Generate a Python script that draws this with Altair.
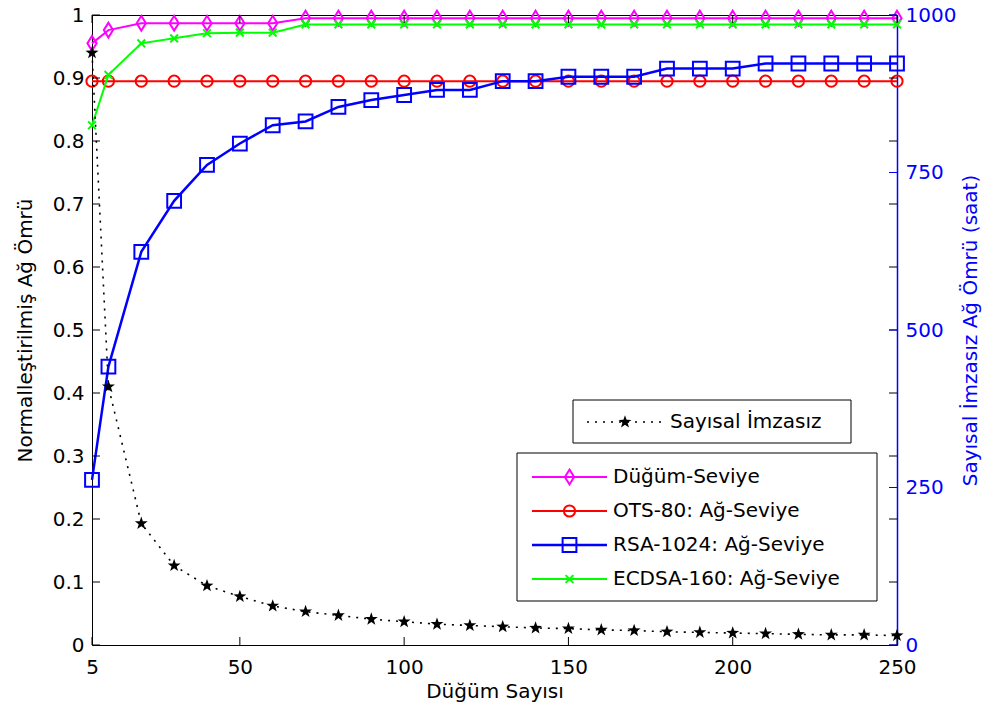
import math
import altair as alt
import pandas as pd

# ---- data -------------------------------------------------------------
node_counts = [5, 10, 20, 30, 40, 50, 60, 70, 80, 90, 100, 110, 120, 130,
               140, 150, 160, 170, 180, 190, 200, 210, 220, 230, 240, 250]

dugum_seviye = [0.955, 0.976, 0.987, 0.987, 0.987, 0.987, 0.987, 0.995, 0.995,
                0.995, 0.995, 0.995, 0.995, 0.995, 0.995, 0.995, 0.995, 0.995,
                0.995, 0.995, 0.995, 0.995, 0.995, 0.995, 0.995, 0.995]
ots80 = [0.895, 0.895, 0.895, 0.895, 0.895, 0.895, 0.895, 0.895, 0.895,
         0.895, 0.895, 0.895, 0.895, 0.895, 0.895, 0.895, 0.895, 0.895,
         0.895, 0.895, 0.895, 0.895, 0.895, 0.895, 0.895, 0.895]
rsa1024 = [0.262, 0.442, 0.624, 0.705, 0.762, 0.796, 0.825, 0.831, 0.854,
           0.865, 0.873, 0.881, 0.881, 0.895, 0.895, 0.902, 0.902, 0.902,
           0.915, 0.915, 0.915, 0.923, 0.923, 0.923, 0.923, 0.923]
ecdsa160 = [0.825, 0.905, 0.955, 0.963, 0.971, 0.972, 0.972, 0.985, 0.985,
            0.985, 0.985, 0.985, 0.985, 0.985, 0.985, 0.985, 0.985, 0.985,
            0.985, 0.985, 0.985, 0.985, 0.985, 0.985, 0.985, 0.985]
# lifetime without signatures, in hours (right axis)
imzasiz_saat = [940, 410, 193, 126, 94, 77, 62, 53, 47, 41, 37, 33, 31, 29,
                27, 26, 24, 23, 21, 20, 19, 18, 17, 16, 16, 15]

series_names = ["Düğüm-Seviye", "OTS-80: Ağ-Seviye",
                "RSA-1024: Ağ-Seviye", "ECDSA-160: Ağ-Seviye"]
series_values = [dugum_seviye, ots80, rsa1024, ecdsa160]
series_colors = ["#FF00FF", "#FF0000", "#0000FF", "#00FF00"]
unsigned_name = "Sayısal İmzasız"

x_ticks = [5, 50, 100, 150, 200, 250]
left_ticks = [0, 0.1, 0.2, 0.3, 0.4, 0.5, 0.6, 0.7, 0.8, 0.9, 1]
right_ticks = [0, 250, 500, 750, 1000]

# ---- styling ----------------------------------------------------------
W, H = 805, 630
FONT = "DejaVu Sans"
FS = 20
TICK = 8
BLUE = "#0000FF"


def star_path(inner=0.4):
    pts = []
    for k in range(10):
        r = 1.0 if k % 2 == 0 else inner
        a = -math.pi / 2 + k * math.pi / 5
        pts.append(f"{r * math.cos(a):.3f},{r * math.sin(a):.3f}")
    return "M" + "L".join(pts) + "Z"


STAR = star_path()
STAR_SIZE = 185
DIAMOND = "M0,-1L0.62,0L0,1L-0.62,0Z"
XMARK = "M-1,-1L1,1M-1,1L1,-1"
markers = [
    dict(shape=DIAMOND, size=220, filled=False),
    dict(shape="circle", size=125, filled=False),
    dict(shape="square", size=190, filled=False),
    dict(shape=XMARK, size=60, filled=False),
]
line_widths = [2, 2, 2.5, 2]

x_scale = alt.Scale(domain=[5, 250], nice=False, zero=False)
yl_scale = alt.Scale(domain=[0, 1], nice=False, zero=False)
yr_scale = alt.Scale(domain=[0, 1000], nice=False, zero=False)

x_axis = alt.Axis(values=x_ticks, title="Düğüm Sayısı", ticks=False,
                  domain=False, grid=False, labelFlush=False, labelPadding=12,
                  titleX=W / 2, titleY=46, titleBaseline="middle",
                  titleAlign="center")
yl_axis = alt.Axis(values=left_ticks, format="~g",
                   title="Normalleştirilmiş Ağ Ömrü", ticks=False,
                   domain=False, grid=False, labelFlush=False, labelPadding=8,
                   titleX=-67, titleY=H / 2, titleAngle=270,
                   titleBaseline="middle", titleAlign="center")
yr_axis = alt.Axis(values=right_ticks, format="d", orient="right",
                   title="Sayısal İmzasız Ağ Ömrü (saat)", ticks=False,
                   domain=True, domainColor=BLUE, domainWidth=1.5,
                   grid=False, labelFlush=False, labelPadding=8,
                   labelColor=BLUE, titleColor=BLUE,
                   titleX=73, titleY=H / 2, titleAngle=270,
                   titleBaseline="middle", titleAlign="center")


def X(field):
    return alt.X(f"{field}:Q", scale=x_scale, axis=x_axis)


def YL(field):
    return alt.Y(f"{field}:Q", scale=yl_scale, axis=yl_axis)


def YR(field):
    return alt.Y(f"{field}:Q", scale=yr_scale, axis=yr_axis)


# ---- left axis group: normalised lifetimes ----------------------------
left_layers = []
for name, vals, col, mk, lw in zip(series_names, series_values,
                                   series_colors, markers, line_widths):
    df = pd.DataFrame({"n": node_counts, "v": vals, "seri": name})
    left_layers.append(
        alt.Chart(df).mark_line(color=col, strokeWidth=lw)
        .encode(x=X("n"), y=YL("v"))
    )
    left_layers.append(
        alt.Chart(df).mark_point(color=col, strokeWidth=2, opacity=1, **mk)
        .encode(x=X("n"), y=YL("v"))
    )

# inward tick marks on all four sides of the box
xt = pd.DataFrame({"t": x_ticks})
ylt = pd.DataFrame({"t": left_ticks})
left_layers += [
    alt.Chart(xt).mark_rule(color="black", strokeWidth=1)
    .encode(x=X("t"), y=alt.value(H), y2=alt.value(H - TICK)),
    alt.Chart(xt).mark_rule(color="black", strokeWidth=1)
    .encode(x=X("t"), y=alt.value(0), y2=alt.value(TICK)),
    alt.Chart(ylt).mark_rule(color="black", strokeWidth=1)
    .encode(y=YL("t"), x=alt.value(0), x2=alt.value(TICK)),
    alt.Chart(ylt).mark_rule(color="black", strokeWidth=1)
    .encode(y=YL("t"), x=alt.value(W - TICK), x2=alt.value(W)),
]
left = alt.layer(*left_layers)

# ---- right axis group: lifetime without signatures (hours) ------------
udf = pd.DataFrame({"n": node_counts, "saat": imzasiz_saat})
yrt = pd.DataFrame({"t": right_ticks})
right = alt.layer(
    alt.Chart(yrt).mark_rule(color=BLUE, strokeWidth=1)
    .encode(y=YR("t"), x=alt.value(W - TICK), x2=alt.value(W)),
    alt.Chart(udf).mark_line(color="black", strokeWidth=1.6,
                             strokeDash=[2, 6])
    .encode(x=X("n"), y=YR("saat")),
    alt.Chart(udf).mark_point(shape=STAR, size=STAR_SIZE, filled=True,
                              color="black", opacity=1)
    .encode(x=X("n"), y=YR("saat")),
)

# ---- legends ----------------------------------------------------------
one = pd.DataFrame({"k": [0]})
legend_layers = []


def box(x0, y0, x1, y1):
    return alt.Chart(one).mark_rect(fill="white", stroke="black",
                                    strokeWidth=1).encode(
        x=alt.value(x0), x2=alt.value(x1), y=alt.value(y0), y2=alt.value(y1))


def entry(y, sx0, sx1, tx, label, line_kw, point_kw):
    return [
        alt.Chart(one).mark_rule(**line_kw).encode(
            x=alt.value(sx0), x2=alt.value(sx1), y=alt.value(y)),
        alt.Chart(one).mark_point(opacity=1, **point_kw).encode(
            x=alt.value((sx0 + sx1) / 2), y=alt.value(y)),
        alt.Chart(one).mark_text(align="left", baseline="middle", font=FONT,
                                 fontSize=FS, color="black").encode(
            x=alt.value(tx), y=alt.value(y), text=alt.value(label)),
    ]


# box with the unsigned series
legend_layers.append(box(481, 385, 759, 428))
legend_layers += entry(407, 495, 571, 578, unsigned_name,
                       dict(color="black", strokeWidth=1.6, strokeDash=[2, 6]),
                       dict(shape=STAR, size=STAR_SIZE, filled=True,
                            color="black"))

# box with the signed series
legend_layers.append(box(425, 438, 785, 586))
for i, (name, col, mk, lw) in enumerate(zip(series_names, series_colors,
                                            markers, line_widths)):
    legend_layers += entry(462 + 34 * i, 440, 515, 521, name,
                           dict(color=col, strokeWidth=lw),
                           dict(color=col, strokeWidth=2, **mk))
legend = alt.layer(*legend_layers)

chart = (
    alt.layer(left, right, legend)
    .resolve_scale(y="independent")
    .properties(
        width=W, height=H,
        autosize=alt.AutoSizeParams(type="none"),
        padding={"left": 92, "top": 15, "right": 97, "bottom": 73},
        background="white",
    )
    .configure_view(stroke="black", strokeWidth=1)
    .configure_axis(labelFont=FONT, labelFontSize=FS, labelColor="black",
                    titleFont=FONT, titleFontSize=FS, titleFontWeight="normal",
                    titleColor="black")
)

chart.save("out.html", embed_options={"renderer": "svg", "actions": False})
